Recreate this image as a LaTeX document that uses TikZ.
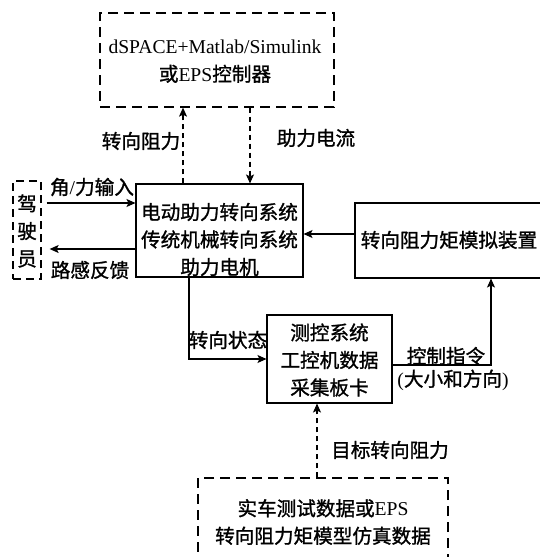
\documentclass[tikz,border=0pt]{standalone}
\usepackage{fontspec}
\setmainfont{Liberation Serif}
\newfontfamily\cjk{Noto Sans CJK SC}[FakeBold=1.2]
\newcommand\zh[1]{{\cjk #1}}
\usetikzlibrary{arrows.meta,calc}
\tikzset{
  every node/.style={font=\fontsize{19.6}{27.5}\selectfont, inner sep=0pt, align=center},
  box/.style={draw, line width=1.1pt},
  dbox/.style={draw, line width=1.3pt, dash pattern=on 10pt off 6pt},
  lbl/.style={},
  arr/.style={line width=1.1pt, -{Stealth[length=9pt,width=8pt,inset=2pt]}},
  darr/.style={line width=1.1pt, dash pattern=on 5pt off 4pt, -{Stealth[length=9pt,width=8pt,inset=2pt]}},
  ln/.style={line width=1.1pt},
}
\begin{document}
\begin{tikzpicture}[x=1pt,y=-1pt]
\clip (0,0) rectangle (540,557);
\fill[white] (0,0) rectangle (540,557);
% boxes
\node[dbox, minimum width=234pt, minimum height=94pt] (top) at (217,60) {};
\node (toptxt) at (215,61.5) {dSPACE+Matlab/Simulink\\\zh{或}EPS\zh{控制器}};
\node[dbox, dash pattern=on 8pt off 5pt, minimum width=28pt, minimum height=98pt] (driver) at (27,230) {};
\node (drivertxt) at (27,231) {\zh{驾}\\\zh{驶}\\\zh{员}};
\node[box, minimum width=167pt, minimum height=93pt] (main) at (219.5,230.5) {};
\node (maintxt) at (219.5,239.5) {\zh{电动助力转向系统}\\\zh{传统机械转向系统}\\\zh{助力电机}};
\node[box, minimum width=190pt, minimum height=75pt] (right) at (450,240.5) {};
\node (righttxt) at (449,240) {\zh{转向阻力矩模拟装置}};
\node[box, minimum width=125pt, minimum height=88pt] (ctrl) at (329.5,359) {};
\node (ctrltxt) at (329.5,360) {\zh{测控系统}\\\zh{工控机数据}\\\zh{采集板卡}};
\node[dbox, minimum width=250pt, minimum height=92pt] (bot) at (323,524) {};
\node (bottxt) at (323,522) {\zh{实车测试数据或}EPS\\\zh{转向阻力矩模型仿真数据}};
% connectors
\draw[darr] (183,0 |- main.north) -- (183,0 |- top.south);
\draw[darr] (250,0 |- top.south) -- (250,0 |- main.north);
\draw[arr, shorten <=5pt] (driver.east |- 0,203) -- (main.west |- 0,203);
\draw[arr, shorten >=8pt] (main.west |- 0,249) -- (driver.east |- 0,249);
\draw[arr] (right.west |- 0,234) -- (main.east |- 0,234);
\draw[arr] (189,0 |- main.south) |- (ctrl.west |- 0,359);
\draw[arr] (ctrl.east |- 0,365) -| (491,0 |- right.south);
\draw[darr] (317,0 |- bot.north) -- (317,0 |- ctrl.south);
% labels
\node[lbl] (l1) at (141,141) {\zh{转向阻力}};
\node[lbl] (l2) at (316,138) {\zh{助力电流}};
\node[lbl] (l3) at (92,187) {\zh{角}/\zh{力输入}};
\node[lbl] (l4) at (90,270) {\zh{路感反馈}};
\node[lbl] (l5) at (228,340) {\zh{转向状态}};
\node[lbl] (l6) at (446,356) {\zh{控制指令}};
\node[lbl] (l7) at (453,380) {(\zh{大小和方向})};
\node[lbl] (l8) at (390,450) {\zh{目标转向阻力}};
\end{tikzpicture}
\end{document}
